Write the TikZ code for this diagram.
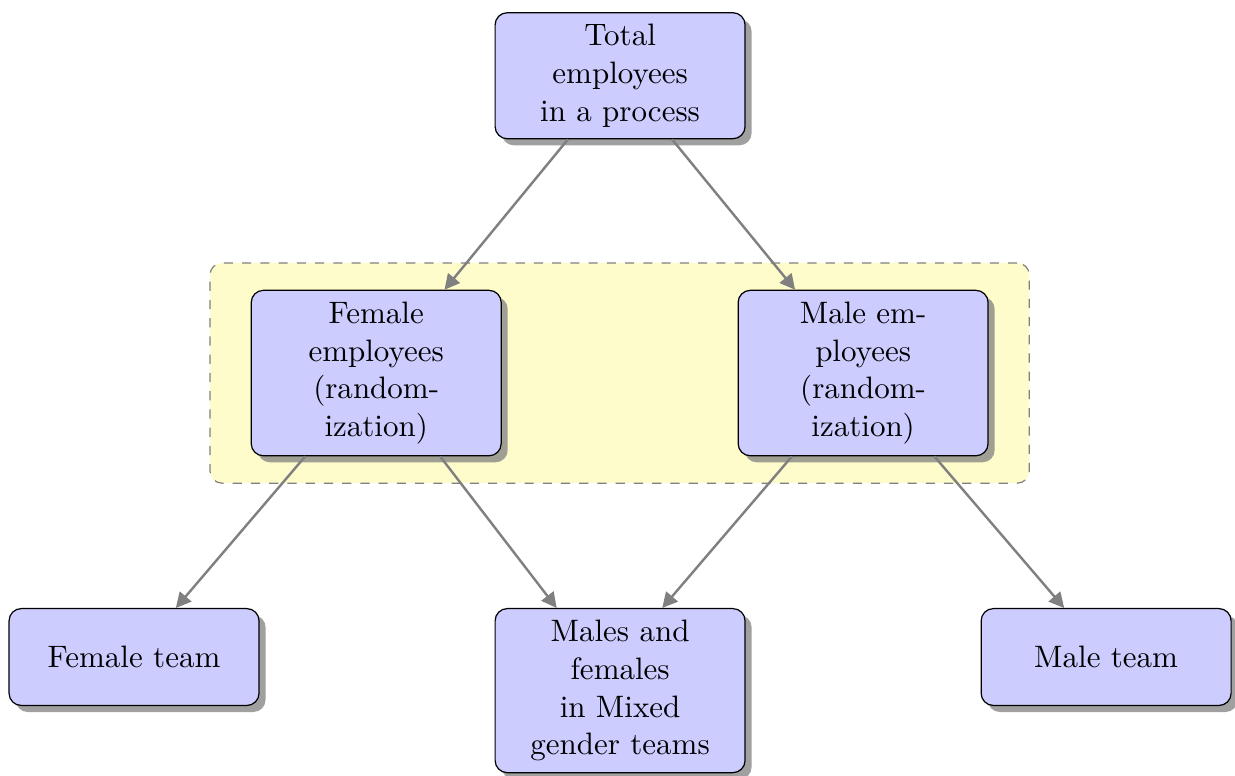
\documentclass[tikz,border=0pt]{standalone}
\usetikzlibrary{arrows.meta,shadows,fit,backgrounds}
\tikzset{
    block/.style={rectangle, draw, fill=blue!20, rounded corners, drop shadow={opacity=0.75},
        font=\fontsize{10.2}{12.4}\selectfont, inner ysep=3.8pt,
        text width=6em, align=center, minimum width=2.89cm, minimum height=1.12cm},
    line/.style={draw=gray, thick, -{Triangle[length=5pt, width=5pt]}},
    group/.style={draw=gray, dashed, fill=yellow!20, rounded corners,
        inner xsep=0.47cm, inner ysep=0.31cm}
}
\begin{document}
\begin{tikzpicture}
    \useasboundingbox (0,0) rectangle (14.28,-8.97);

    % Top node
    \node[block, anchor=north] (total) at (7.17,-0.14) {Total employees in a process};

    % Randomized groups
    \node[block, anchor=north] (female) at (4.35,-3.35) {Female employees (randomization)};
    \node[block, anchor=north] (male) at (9.98,-3.35) {Male employees (randomization)};

    % Teams
    \node[block, anchor=north] (femteam) at (1.55,-7.03) {Female team};
    \node[block, anchor=north] (mixed) at (7.17,-7.03) {Males and females in Mixed gender teams};
    \node[block, anchor=north] (malteam) at (12.79,-7.03) {Male team};

    % Background of the randomization step
    \begin{scope}[on background layer]
        \node[group, fit=(female)(male)] (random) {};
    \end{scope}

    % Arrows
    \draw[line] (total) -- (female);
    \draw[line] (total) -- (male);
    \draw[line] (female) -- (femteam);
    \draw[line] (female) -- (mixed);
    \draw[line] (male) -- (mixed.63);
    \draw[line] (male) -- (malteam);
\end{tikzpicture}
\end{document}
